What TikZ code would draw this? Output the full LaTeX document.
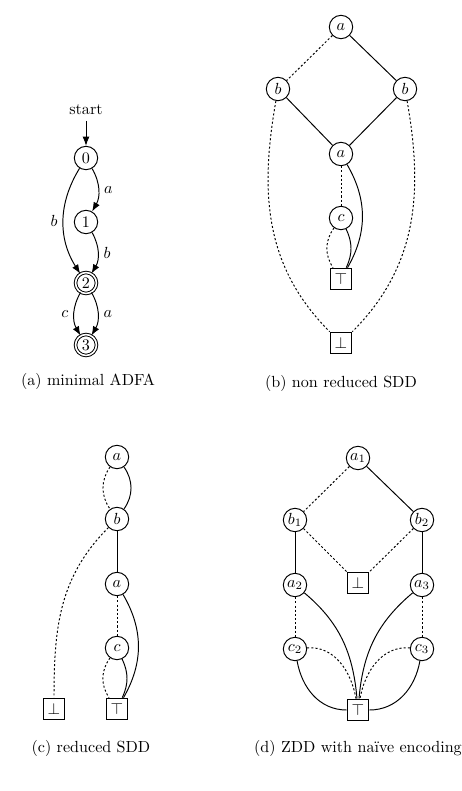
\documentclass[tikz,border=0pt]{standalone}
\usetikzlibrary{arrows.meta}
\begin{document}
\begin{tikzpicture}[x=0.621pt, y=0.621pt, semithick,
  st/.style={circle, draw, minimum size=14.5pt, inner sep=0pt},
  acc/.style={st, double, double distance=1pt, minimum size=13pt},
  leaf/.style={rectangle, draw, minimum size=13.5pt, inner sep=0pt},
  lo/.style={dash pattern=on 1.3pt off 1.3pt}]
  \useasboundingbox (0,0) rectangle (462,-791);

  % (a) minimal ADFA
  \node (start) at (86,-110) {start};
  \node[st] (q0) at (86,-158) {$0$};
  \node[st] (q1) at (86,-222) {$1$};
  \node[acc] (q2) at (86,-283) {$2$};
  \node[acc] (q3) at (86,-345) {$3$};
  \draw[-Latex] (start) -- (q0);
  \draw[-Latex] (q0) to[bend left] node[right] {$a$} (q1);
  \draw[-Latex] (q0) to[bend right=32] node[left] {$b$} (q2);
  \draw[-Latex] (q1) to[bend left] node[right] {$b$} (q2);
  \draw[-Latex] (q2) to[bend right] node[left] {$c$} (q3);
  \draw[-Latex] (q2) to[bend left] node[right] {$a$} (q3);
  \node (capa) at (88,-381) {(a) minimal ADFA};

  % (b) non reduced SDD
  \node[st] (b-a) at (341,-27) {$a$};
  \node[st] (b-bl) at (278,-89) {$b$};
  \node[st] (b-br) at (405,-89) {$b$};
  \node[st] (b-am) at (341,-154) {$a$};
  \node[st] (b-c) at (341,-218) {$c$};
  \node[leaf] (b-top) at (341,-279) {$\top$};
  \node[leaf] (b-bot) at (341,-343) {$\bot$};
  \draw[lo] (b-a) -- (b-bl);
  \draw (b-a) -- (b-br);
  \draw (b-bl) -- (b-am);
  \draw (b-br) -- (b-am);
  \draw[lo] (b-bl) to[out=260,in=135] (b-bot);
  \draw[lo] (b-br) to[out=280,in=45] (b-bot);
  \draw[lo] (b-am) -- (b-c);
  \draw (b-am) to[bend left=30] (b-top);
  \draw[lo] (b-c) to[bend right=35] (b-top);
  \draw (b-c) to[bend left=25] (b-top);
  \node (capb) at (341,-383) {(b) non reduced SDD};

  % (c) reduced SDD
  \node[st] (c-a) at (117,-457) {$a$};
  \node[st] (c-b) at (117,-519) {$b$};
  \node[st] (c-am) at (117,-584) {$a$};
  \node[st] (c-c) at (117,-648) {$c$};
  \node[leaf] (c-top) at (117,-709) {$\top$};
  \node[leaf] (c-bot) at (54,-709) {$\bot$};
  \draw[lo] (c-a) to[bend right=35] (c-b);
  \draw (c-a) to[bend left=35] (c-b);
  \draw (c-b) -- (c-am);
  \draw[lo] (c-b) to[out=225,in=90] (c-bot);
  \draw[lo] (c-am) -- (c-c);
  \draw (c-am) to[bend left=30] (c-top);
  \draw[lo] (c-c) to[bend right=35] (c-top);
  \draw (c-c) to[bend left=25] (c-top);
  \node (capc) at (91,-748) {(c) reduced SDD};

  % (d) ZDD with naive encoding
  \node[st] (d-a1) at (358,-458) {$a_1$};
  \node[st] (d-b1) at (295,-520) {$b_1$};
  \node[st] (d-b2) at (422,-520) {$b_2$};
  \node[st] (d-a2) at (295,-585) {$a_2$};
  \node[leaf] (d-bot) at (358,-583) {$\bot$};
  \node[st] (d-a3) at (422,-585) {$a_3$};
  \node[st] (d-c2) at (295,-649) {$c_2$};
  \node[st] (d-c3) at (422,-649) {$c_3$};
  \node[leaf] (d-top) at (358,-710) {$\top$};
  \draw[lo] (d-a1) -- (d-b1);
  \draw (d-a1) -- (d-b2);
  \draw (d-b1) -- (d-a2);
  \draw[lo] (d-b1) -- (d-bot);
  \draw[lo] (d-b2) -- (d-bot);
  \draw (d-b2) -- (d-a3);
  \draw[lo] (d-a2) -- (d-c2);
  \draw[lo] (d-a3) -- (d-c3);
  \draw (d-a2) to[out=-40,in=95] (d-top);
  \draw (d-a3) to[out=220,in=85] (d-top);
  \draw[lo] (d-c2) to[out=5,in=100] (d-top);
  \draw[lo] (d-c3) to[out=175,in=80] (d-top);
  \draw (d-c2) to[out=-80,in=180] (d-top);
  \draw (d-c3) to[out=260,in=0] (d-top);
  \node (capd) at (358,-748) {(d) ZDD with na\"{\i}ve encoding};
\end{tikzpicture}
\end{document}
